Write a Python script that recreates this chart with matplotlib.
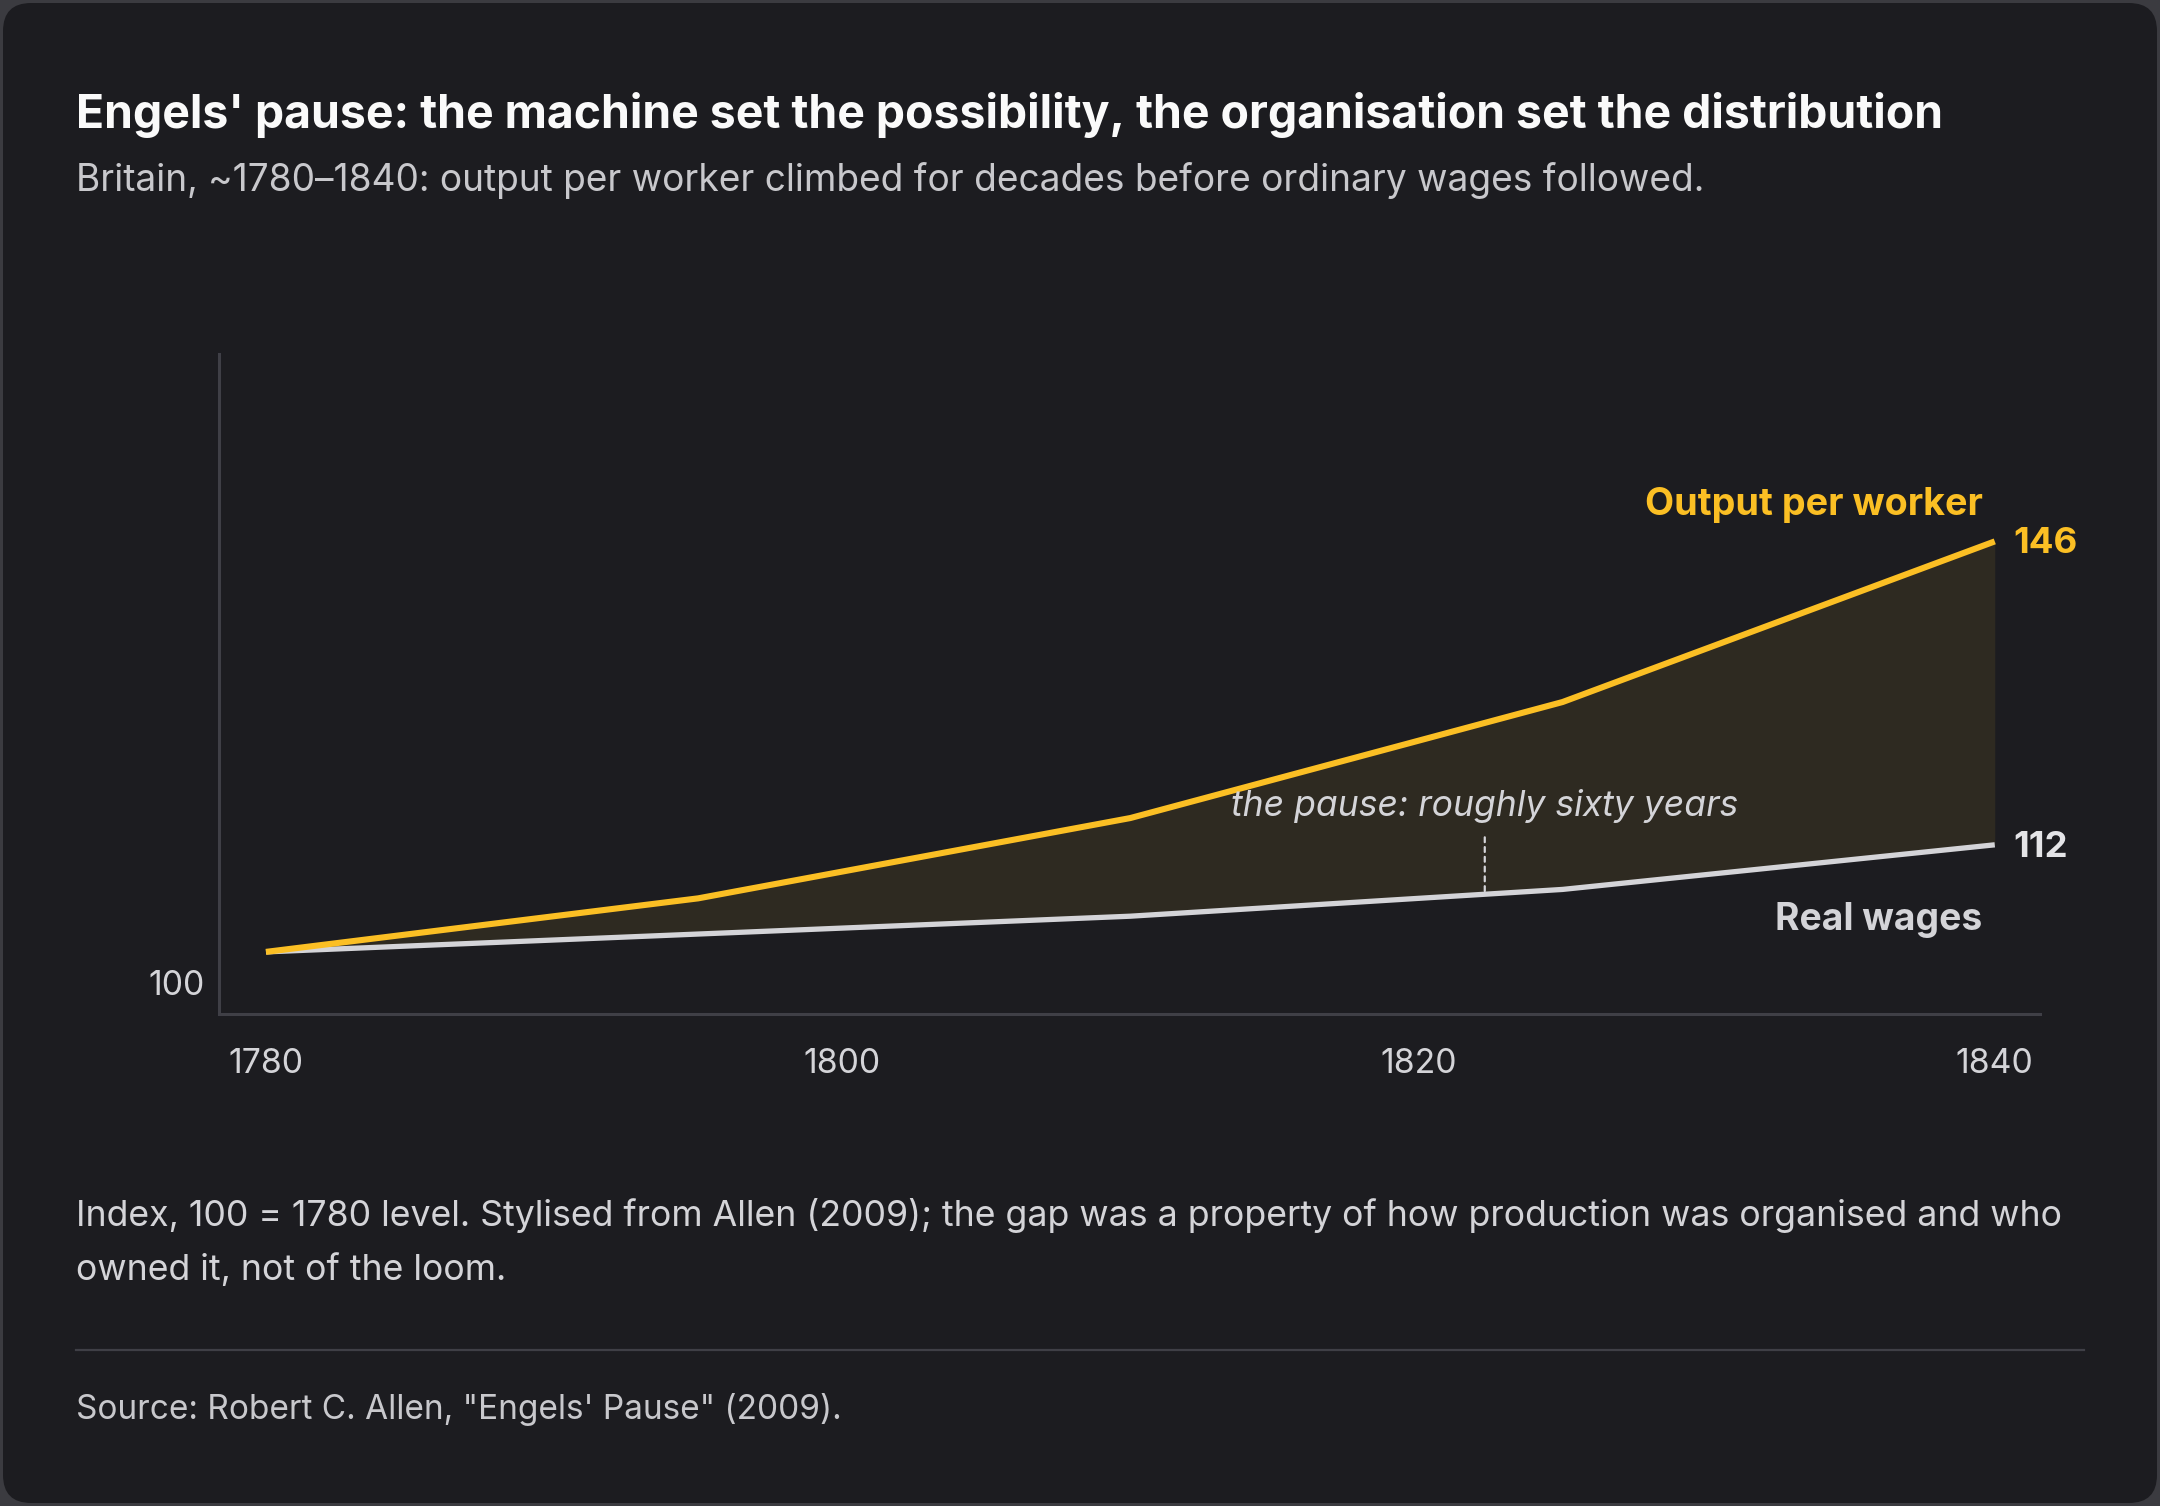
import matplotlib.pyplot as plt
import numpy as np
from matplotlib.patches import FancyBboxPatch

plt.rcParams['font.family'] = ['Inter', 'DejaVu Sans']

# data, index 100 = 1780
years = [1780, 1795, 1810, 1825, 1840]
output_per_worker = [100, 106, 115, 128, 146]
real_wages = [100, 102, 104, 107, 112]
xtick_years = [1780, 1800, 1820, 1840]
pause_year = 1822.3

title = "Engels' pause: the machine set the possibility, the organisation set the distribution"
subtitle = "Britain, ~1780\u20131840: output per worker climbed for decades before ordinary wages followed."
note1 = "Index, 100 = 1780 level. Stylised from Allen (2009); the gap was a property of how production was organised and who"
note2 = "owned it, not of the loom."
source = "Source: Robert C. Allen, \"Engels' Pause\" (2009)."

W, H = 2160, 1506
BG = '#1c1c20'
GOLD = '#fbbf24'
WAGE = '#d4d4d8'
GRID = '#3f3f46'


def fx(px):
    return px / W


def fy(py):
    return 1 - py / H


fig = plt.figure(figsize=(W / 200, H / 200), dpi=200)
fig.patch.set_facecolor('#3b3b40')
card = FancyBboxPatch((fx(3), fy(H - 3)), fx(W - 6), 1 - 6 / H,
                      boxstyle="round,pad=0,rounding_size=0.013",
                      transform=fig.transFigure, facecolor=BG, edgecolor='none',
                      mutation_aspect=W / H, zorder=-10)
fig.patches.append(card)

ax = fig.add_axes([fx(219), fy(1014), fx(2040 - 219), (1014 - 354) / H])
ax.set_zorder(5)
ax.set_facecolor('none')
ax.set_xlim(1778.37, 1841.57)
ax.set_ylim(93.04, 167.0)

ax.fill_between(years, real_wages, output_per_worker, color='#2e2a21', lw=0)
ax.plot(years, real_wages, color=WAGE, lw=1.9, solid_capstyle='butt')
ax.plot(years, output_per_worker, color=GOLD, lw=2.2, solid_capstyle='butt')

for s in ['top', 'right']:
    ax.spines[s].set_visible(False)
for s in ['left', 'bottom']:
    ax.spines[s].set_color(GRID)
    ax.spines[s].set_linewidth(1.1)

ax.set_xticks(xtick_years)
ax.set_xticklabels([str(y) for y in xtick_years])
ax.tick_params(axis='x', length=0, pad=12.3, labelsize=12.2, labelcolor='#d4d4d8')
ax.set_yticks([])
ax.annotate("100", xy=(0, 100), xycoords=('axes fraction', 'data'),
            xytext=(-5, -12.3), textcoords='offset points', ha='right', va='center',
            fontsize=12.2, color='#d4d4d8')

# end labels
ax.annotate("Output per worker", xy=(years[-1], output_per_worker[-1]),
            xytext=(-4.4, 9.5), textcoords='offset points', ha='right', va='baseline',
            fontsize=13.6, fontweight='bold', color=GOLD)
ax.annotate(str(output_per_worker[-1]), xy=(years[-1], output_per_worker[-1]),
            xytext=(6.8, -0.8), textcoords='offset points', ha='left', va='center',
            fontsize=13.2, fontweight='bold', color=GOLD)
ax.annotate(str(real_wages[-1]), xy=(years[-1], real_wages[-1]),
            xytext=(6.8, -1.0), textcoords='offset points', ha='left', va='center',
            fontsize=13.2, fontweight='bold', color='#e4e4e7')
ax.annotate("Real wages", xy=(years[-1], real_wages[-1]),
            xytext=(-4.4, -30.6), textcoords='offset points', ha='right', va='baseline',
            fontsize=13.4, fontweight='bold', color=WAGE)

# pause marker
w_pause = np.interp(pause_year, years, real_wages)
ax.annotate("", xy=(pause_year, w_pause), xytext=(0, 20.5), textcoords='offset points',
            arrowprops=dict(arrowstyle='-', color='#d4d4d8', lw=0.8,
                            linestyle=(0, (2.2, 2.2)), shrinkA=0, shrinkB=0))
ax.annotate("the pause: roughly sixty years", xy=(pause_year, w_pause),
            xytext=(0, 28), textcoords='offset points', ha='center', va='baseline',
            fontsize=12.8, fontstyle='italic', color='#d4d4d8')

# header / footer text
fig.text(fx(76), fy(128), title, fontsize=16.7, fontweight='bold', color='#fafafa', va='baseline')
fig.text(fx(76), fy(191), subtitle, fontsize=13.35, color='#c8c8cc', va='baseline')
fig.text(fx(76), fy(1226), note1, fontsize=12.85, color='#d4d4d8', va='baseline')
fig.text(fx(76), fy(1280), note2, fontsize=12.85, color='#d4d4d8', va='baseline')
fig.add_artist(plt.Line2D([fx(76), fx(2084)], [fy(1350), fy(1350)], transform=fig.transFigure,
                          color=GRID, lw=0.8))
fig.text(fx(76), fy(1419), source, fontsize=12, color='#c8c8cc', va='baseline')

fig.savefig('out.png', dpi=200, facecolor=fig.get_facecolor())
